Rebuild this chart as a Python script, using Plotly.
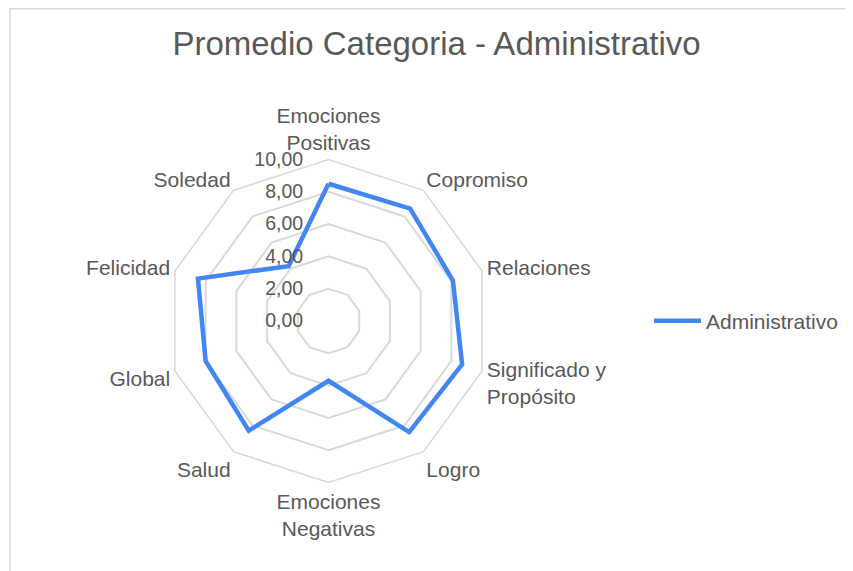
import plotly.graph_objects as go

categories = ["Emociones<br>Positivas", "Copromiso", "Relaciones", "Significado y<br>Propósito",
              "Logro", "Emociones<br>Negativas", "Salud", "Global", "Felicidad", "Soledad"]
values = [8.5, 8.6, 8.1, 8.7, 8.5, 3.7, 8.4, 8.0, 8.5, 4.2]
series_name = "Administrativo"
tick_vals = [0, 2, 4, 6, 8, 10]
tick_text = ["0,00", "2,00", "4,00", "6,00", "8,00", "10,00"]

W, H = 853, 571
# page body has an 8px margin; positions below are in figure coordinates
cx, cy, R = 320.5, 313, 161.5

fig = go.Figure()
fig.add_trace(go.Scatterpolar(
    r=values + values[:1],
    theta=categories + categories[:1],
    mode="lines",
    name=series_name,
    line=dict(color="#4285F4", width=4.5),
))

fig.update_layout(
    width=W, height=H,
    margin=dict(l=0, r=0, t=0, b=0, pad=0),
    paper_bgcolor="white",
    font=dict(family="Liberation Sans, Arial, sans-serif", color="#595959", size=21),
    title=dict(text="Promedio Categoria - Administrativo", x=428.5 / W, xanchor="center",
               y=1 - 35 / H, yanchor="middle",
               font=dict(size=33, color="#595959")),
    polar=dict(
        domain=dict(x=[(cx - R) / W, (cx + R) / W], y=[(H - cy - R) / H, (H - cy + R) / H]),
        gridshape="linear",
        bgcolor="white",
        radialaxis=dict(range=[0, 10], tickvals=tick_vals, ticktext=tick_text,
                        angle=90, side="counterclockwise", tickangle=90,
                        showline=False, ticks="outside", ticklen=18,
                        tickcolor="rgba(0,0,0,0)",
                        gridcolor="#d9d9d9", gridwidth=1.6,
                        tickfont=dict(size=19.5, color="#595959")),
        angularaxis=dict(direction="clockwise", rotation=90, showgrid=False,
                         showline=True, linecolor="#d9d9d9", linewidth=1.6,
                         ticks="", tickfont=dict(size=21, color="#595959")),
    ),
    showlegend=True,
    legend=dict(x=641 / W, y=1 - 313 / H, xanchor="left", yanchor="middle",
                font=dict(size=21, color="#595959"), itemwidth=47),
    shapes=[dict(type="rect", xref="paper", yref="paper",
                 x0=2 / W, x1=1.05, y0=-0.05, y1=1 - 0.75 / H,
                 line=dict(color="#d9d9d9", width=1.5), fillcolor="rgba(0,0,0,0)")],
)

fig.write_html("out.html")
